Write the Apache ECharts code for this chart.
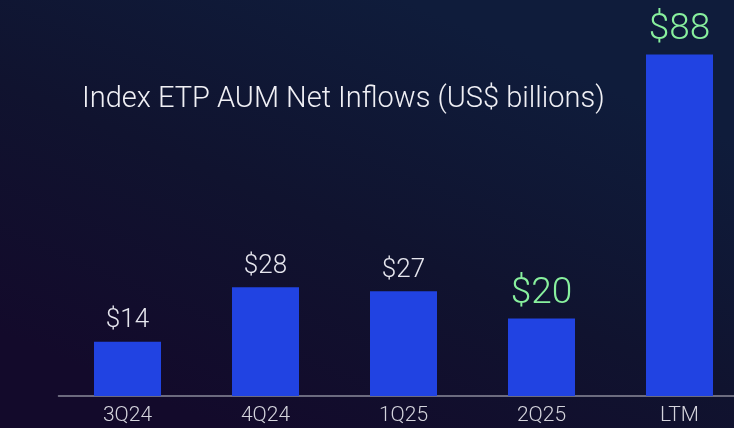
<!DOCTYPE html>
<html>
<head>
<meta charset="utf-8">
<script src="https://cdn.jsdelivr.net/npm/echarts@6/dist/echarts.min.js"></script>
<style>
html,body{margin:0;padding:0;}
#c{width:734px;height:428px;}
</style>
</head>
<body>
<div id="c"></div>
<script>
var categories = ['3Q24', '4Q24', '1Q25', '2Q25', 'LTM'];
var values = [14, 28, 27, 20, 88];
var highlighted = [false, false, false, true, true];
var titleText = 'Index ETP AUM Net Inflows (US$ billions)';

var chart = echarts.init(document.getElementById('c'));
var data = values.map(function (v, i) {
  var hl = highlighted[i];
  return {
    value: v,
    label: {
      color: hl ? '#88f09e' : '#e6e6ee',
      fontSize: hl ? 37 : 26,
      distance: hl ? 6 : 8
    }
  };
});

chart.setOption({
  backgroundColor: {
    type: 'linear', x: 0.55, y: 0, x2: 0.3, y2: 1,
    colorStops: [
      { offset: 0, color: '#0f1c3b' },
      { offset: 0.5, color: '#10132f' },
      { offset: 1, color: '#130a2b' }
    ]
  },
  animation: false,
  title: {
    text: titleText,
    left: 77,
    top: 80,
    textStyle: {
      color: '#f0f0f5',
      fontFamily: 'Roboto',
      fontWeight: 300,
      fontSize: 29
    }
  },
  grid: { left: 58.5, width: 690, top: 8, bottom: 32, outerBoundsMode: 'none', containLabel: false },
  xAxis: {
    type: 'category',
    data: categories,
    axisLine: { show: true, lineStyle: { color: '#8a8a9a', width: 1.5 } },
    axisTick: { show: false },
    axisLabel: {
      color: '#d4d4dc',
      fontFamily: 'Roboto',
      fontWeight: 300,
      fontSize: 21,
      margin: 9
    }
  },
  yAxis: {
    type: 'value',
    min: 0,
    max: 100,
    show: false,
    splitLine: { show: false }
  },
  series: [{
    type: 'bar',
    data: data,
    barWidth: 67,
    itemStyle: { color: '#2143e2' },
    label: {
      show: true,
      position: 'top',
      fontFamily: 'Roboto',
      fontWeight: 300,
      formatter: function (p) { return '$' + p.value; }
    }
  }]
});
</script>
</body>
</html>
